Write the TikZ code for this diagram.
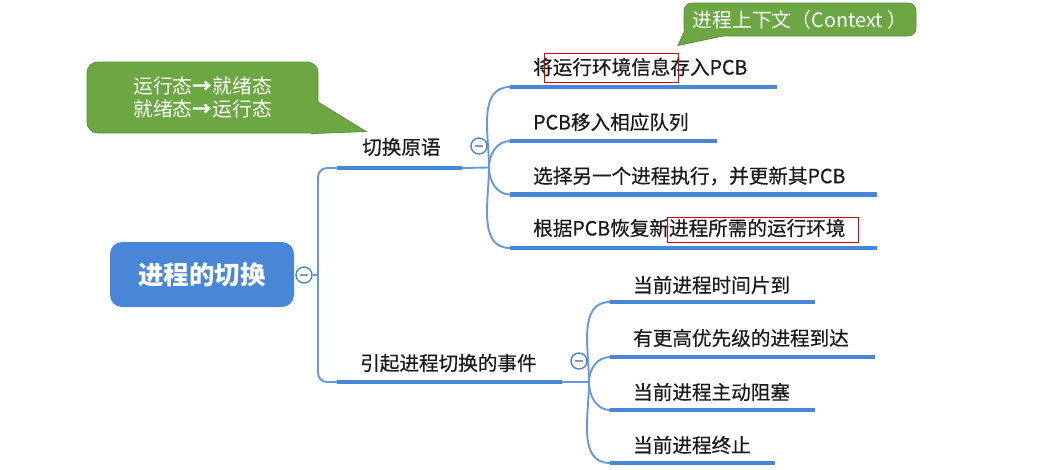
\documentclass[tikz,border=0pt]{standalone}
\usepackage{fontspec}
\setmainfont{Noto Sans CJK SC}
\newfontfamily\topicfont[FakeBold=0.5]{Noto Sans CJK SC}
\usetikzlibrary{calc}
\definecolor{lineblue}{HTML}{4A86D8}
\definecolor{rootblue}{HTML}{4A86D8}
\definecolor{calgreen}{HTML}{6CA744}
\definecolor{calborder}{HTML}{5B8E3C}
\definecolor{txt}{HTML}{1A1A1A}
\definecolor{minuscol}{HTML}{8C94B4}
\tikzset{
  topic/.style={anchor=west, inner sep=0pt, text=txt, font=\topicfont\fontsize{19.6}{22}\selectfont},
  uline/.style={line width=4.8pt, draw=lineblue},
  conn/.style={line width=1.9pt, draw=lineblue!85},
  fold/.style={circle, draw=lineblue, line width=1.4pt, fill=white, minimum size=16pt, inner sep=0pt},
  foldbar/.style={line width=2.6pt, draw=minuscol},
  redbox/.style={draw=red!85!black, line width=0.9pt},
  callbox/.style={rectangle, fill=calgreen, draw=calborder, line width=0.8pt, text=white,
    font=\fontsize{19.8}{23}\selectfont, align=center, inner sep=0pt},
  rootbox/.style={rectangle, rounded corners=12pt, fill=rootblue, text=white,
    font=\fontsize{25.5}{28}\selectfont\bfseries, minimum width=184pt, minimum height=65pt, inner sep=0pt},
}
\begin{document}
\begin{tikzpicture}[x=1pt,y=-1pt]
\useasboundingbox (0,0) rectangle (1050,469);

% root
\node[rootbox] (root) at (202,274.5) {进程的切换};
\node[fold] (f0) at (304,275) {};
\coordinate (s0) at (318,275);

% level 1 underlines
\coordinate (u1s) at (337,168);
\coordinate (u1e) at (462,168);
\coordinate (u2s) at (337,382);
\coordinate (u2e) at (562,382);

\draw[conn] (f0.east) -- (s0);
\draw[conn, rounded corners=9pt] (u1s) -- (u1s -| s0) -- (u2s -| s0) -- (u2s);
\draw[uline] (u1s) -- (u1e);
\draw[uline] (u2s) -- (u2e);

\node[topic] (p1) at (362,147) {切换原语};
\node[topic] (p2) at (360,363) {引起进程切换的事件};

% branch 1 children
\coordinate (b1) at (489,167.5);
\coordinate (c1s) at (510,87);  \coordinate (c1e) at (777,87);
\coordinate (c2s) at (510,141); \coordinate (c2e) at (717,141);
\coordinate (c3s) at (510,194.5); \coordinate (c3e) at (877,194.5);
\coordinate (c4s) at (510,248); \coordinate (c4e) at (877,248);

\draw[conn] (u1e) -- (b1);
\draw[conn] (b1) to[out=90,in=180] (c1s);
\draw[conn] (b1) to[out=90,in=180] (c2s);
\draw[conn] (b1) to[out=-90,in=180] (c3s);
\draw[conn] (b1) to[out=-90,in=180] (c4s);
\foreach \i in {1,2,3,4} {\draw[uline] (c\i s) -- (c\i e);}

\node[topic] (k1) at (533,67) {将运行环境信息存入PCB};
\node[topic] (k2) at (533,122) {PCB移入相应队列};
\node[topic] (k3) at (533,176) {选择另一个进程执行，并更新其PCB};
\node[topic] (k4) at (533,228) {根据PCB恢复新进程所需的运行环境};

\node[fold] (f1) at (479,146) {};

% branch 2 children
\coordinate (b2) at (589,382);
\coordinate (e1s) at (610,302); \coordinate (e1e) at (815,302);
\coordinate (e2s) at (610,357); \coordinate (e2e) at (875,357);
\coordinate (e3s) at (610,410); \coordinate (e3e) at (815,410);
\coordinate (e4s) at (610,463); \coordinate (e4e) at (775,463);

\draw[conn] (u2e) -- (b2);
\draw[conn] (b2) to[out=90,in=180] (e1s);
\draw[conn] (b2) to[out=90,in=180] (e2s);
\draw[conn] (b2) to[out=-90,in=180] (e3s);
\draw[conn] (b2) to[out=-90,in=180] (e4s);
\foreach \i in {1,2,3,4} {\draw[uline] (e\i s) -- (e\i e);}

\node[topic] (g1) at (633,285) {当前进程时间片到};
\node[topic] (g2) at (633,338) {有更高优先级的进程到达};
\node[topic] (g3) at (633,392) {当前进程主动阻塞};
\node[topic] (g4) at (633,445) {当前进程终止};

\node[fold] (f2) at (579,361) {};

% fold minus bars
\foreach \f in {f0,f1,f2} {\draw[foldbar] ($(\f)+(-3.8,0)$) -- ($(\f)+(3.8,0)$);}

% red highlight boxes
\draw[redbox] (544,53) rectangle (678,82);
\draw[redbox] (667,217) rectangle (858,242);

% callout 1
\node[callbox, rounded corners=11pt, minimum width=231pt, minimum height=71pt] (cal1) at (202.5,97.5)
  {运行态{\bfseries→}就绪态\\就绪态{\bfseries→}运行态};
\coordinate (t1) at (366,131.5);
\fill[calgreen] (318,102) -- (t1) -- (311,133.6) -- (300,125) -- (300,104) -- cycle;
\draw[calborder, line width=0.8pt] (318,102) -- (t1) -- (311,133.6);

% callout 2
\node[callbox, rounded corners=8pt, minimum width=232pt, minimum height=33pt] (cal2) at (800,19.5)
  {进程上下文（Context ）};
\coordinate (t2) at (678,45.5);
\fill[calgreen] (685,30) -- (t2) -- (723,36) -- (723,30) -- cycle;
\draw[calborder, line width=0.8pt] (685,30) -- (t2) -- (723,36);
\end{tikzpicture}
\end{document}
